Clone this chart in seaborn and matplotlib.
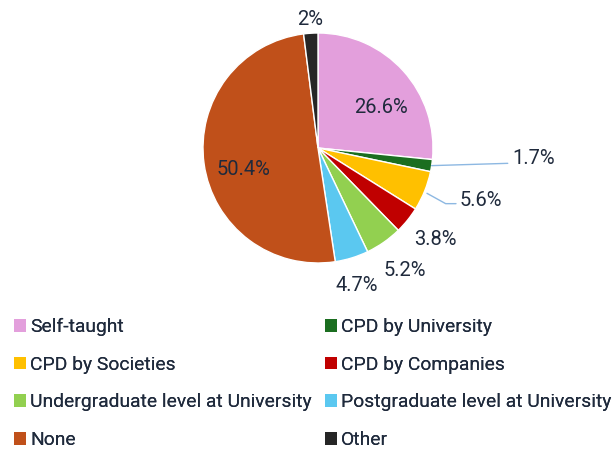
import matplotlib
matplotlib.use("Agg")
import matplotlib.pyplot as plt
from matplotlib.patches import Patch
import numpy as np
import seaborn as sns

categories = ["Self-taught", "CPD by University", "CPD by Societies", "CPD by Companies",
              "Undergraduate level at University", "Postgraduate level at University",
              "None", "Other"]
values = [26.6, 1.7, 5.6, 3.8, 5.2, 4.7, 50.4, 2.0]
value_labels = ["26.6%", "1.7%", "5.6%", "3.8%", "5.2%", "4.7%", "50.4%", "2%"]
colors_hex = ["#E39FDC", "#1B6E20", "#FFC000", "#C00000", "#92D050", "#5BC8F0", "#C0501A", "#262626"]

sns.set_theme(style="white")
plt.rcParams['font.family'] = ['Roboto', 'DejaVu Sans']
palette = sns.color_palette(colors_hex)
txt_color = "#1F2A3C"
fs_lab = 14.5
fs_leg = 13.9

W, H = 616, 450
fig = plt.figure(figsize=(W / 100, H / 100), dpi=100)
cx, cy, r = 318, 148, 115
ax = fig.add_axes([(cx - r) / W, (H - cy - r) / H, 2 * r / W, 2 * r / H])

wedges, _ = ax.pie(values, colors=palette, startangle=90, counterclock=False,
                   wedgeprops=dict(edgecolor="white", linewidth=1.0), radius=1)
ax.set_xlim(-1, 1)
ax.set_ylim(-1, 1)
ax.set_aspect("equal")
ax.axis("off")

# label placement (distance from centre in radius units, extra x/y nudge) per slice
label_dist = [0.64, None, None, 1.30, 1.30, 1.25, 0.62, 1.15]
nudge = [(0.07, -0.08), None, None, (0.01, 0.02), (0.01, 0.0), (-0.03, 0.0), (-0.03, -0.10), (0.0, -0.03)]
for i, w in enumerate(wedges):
    ang = np.deg2rad((w.theta1 + w.theta2) / 2)
    ux, uy = np.cos(ang), np.sin(ang)
    if label_dist[i] is not None:
        d = label_dist[i]
        nx, ny = nudge[i]
        ax.text(d * ux + nx, d * uy + ny, value_labels[i], ha="center", va="center",
                fontsize=fs_lab, color=txt_color, clip_on=False)

# leader-line labels
lc = "#8DB8E2"
# 1.7%
w = wedges[1]
ang = np.deg2rad((w.theta1 + w.theta2) / 2)
x0, y0 = np.cos(ang), np.sin(ang)
ax.plot([x0, 1.65], [y0, y0 + 0.02], color=lc, lw=1.0, clip_on=False)
ax.text(1.69, y0 + 0.06, value_labels[1], ha="left", va="center", fontsize=fs_lab,
        color=txt_color, clip_on=False)
# 5.6%
w = wedges[2]
ang = np.deg2rad((w.theta1 + w.theta2) / 2)
x0, y0 = np.cos(ang), np.sin(ang)
ax.plot([x0 + 0.02, 1.11, 1.20], [y0 - 0.02, y0 - 0.11, y0 - 0.11], color=lc, lw=1.0, clip_on=False)
ax.text(1.23, y0 - 0.085, value_labels[2], ha="left", va="center", fontsize=fs_lab,
        color=txt_color, clip_on=False)

# legend: two columns, reading order row by row
handles = [Patch(facecolor=c, edgecolor="none") for c in palette]
col_items = [[0, 2, 4, 6], [1, 3, 5, 7]]
col_x = [14, 325]
for items, x in zip(col_items, col_x):
    leg = fig.legend([handles[i] for i in items], [categories[i] for i in items],
                     ncol=1, loc="upper left", bbox_to_anchor=(x / W, 1 - 318 / H),
                     frameon=False, fontsize=fs_leg, handlelength=0.63, handleheight=0.63,
                     handletextpad=0.2, labelspacing=1.02,
                     labelcolor=txt_color, borderaxespad=0, borderpad=0)
    fig.add_artist(leg)

fig.savefig("out.png", dpi=100, facecolor="white")
